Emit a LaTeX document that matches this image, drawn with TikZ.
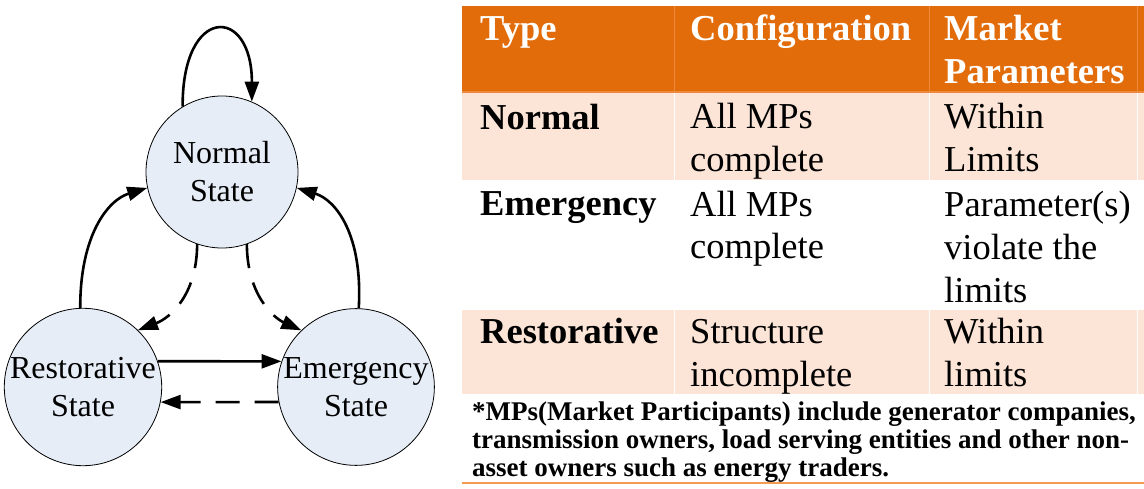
\documentclass[tikz,border=0pt]{standalone}
\usepackage{fontspec}
\setmainfont{Liberation Serif}
\usetikzlibrary{arrows.meta}
\definecolor{hdr}{HTML}{E36C0A}
\definecolor{hdrline}{HTML}{EE8A3E}
\definecolor{peach}{HTML}{FCE4D6}
\definecolor{statefill}{HTML}{E6EDF7}
\definecolor{rule}{HTML}{F59B50}
\begin{document}
\begin{tikzpicture}[x=1pt,y=-1pt,
  state/.style={circle, draw=black, line width=0.8pt, fill=statefill,
    minimum size=152pt, inner sep=0pt, align=center,
    font=\fontsize{32}{38}\selectfont},
  trans/.style={line width=2.6pt, -{Triangle[length=20pt,width=14pt]}},
  dashtrans/.style={trans, dash pattern=on 24pt off 15pt},
  % multi-line cells are anchored at the baseline of their last line
  cell/.style={anchor=base west, inner sep=0pt, align=left,
    font=\fontsize{36.5}{43}\selectfont},
  bcell/.style={cell, font=\fontsize{36.5}{43}\selectfont\bfseries},
  hcell/.style={bcell, text=white},
  note/.style={anchor=base west, inner sep=0pt, align=left,
    font=\fontsize{27}{28}\selectfont\bfseries}
]
\useasboundingbox (0,0) rectangle (1144,489);

% ---- state diagram ----
\node[state] (N) at (222,172) {Normal\\State};
\node[state] (R) at (83,387) {Restorative\\State};
\node[state] (E) at (356,387) {Emergency\\State};

\draw[trans] (N.121) .. controls (182,5) and (252,5) .. (N.67);
\draw[trans] (R.92) .. controls (80,235) and (108,200) .. (N.192);
\draw[trans] (E.88) .. controls (363,235) and (336,200) .. (N.-12);
\draw[dashtrans] (N.251) .. controls (197,295) and (170,318) .. (R.46);
\draw[dashtrans] (N.289) .. controls (247,295) and (274,318) .. (E.134);
\draw[trans] (R.19) -- (E.161);
\draw[dashtrans] (E.191) -- (R.-11);

% ---- table ----
\fill[hdr] (462,6) rectangle (1144,92);
\fill[peach] (462,92) rectangle (1144,180);
\fill[peach] (462,310) rectangle (1144,394);
\foreach \cx in {674,929,1137} {
  \draw[hdrline, line width=1pt] (\cx,6) -- (\cx,92);
  \draw[white, line width=1pt] (\cx,92) -- (\cx,180);
  \draw[white, line width=1pt] (\cx,310) -- (\cx,394);
}
\draw[hdrline, line width=1.5pt] (462,92) -- (1144,92);

\node[hcell] (h1) at (480,41) {Type};
\node[hcell] (h2) at (690,41) {Configuration};
\node[hcell] (h3) at (944,84) {Market\\Parameters};

\node[bcell] (t1) at (480,130) {Normal};
\node[cell]  (c1) at (690,172) {All MPs\\complete};
\node[cell]  (p1) at (944,172) {Within\\Limits};

\node[bcell] (t2) at (480,216) {Emergency};
\node[cell]  (c2) at (690,259) {All MPs\\complete};
\node[cell]  (p2) at (944,302) {Parameter(s)\\violate the\\limits};

\node[bcell] (t3) at (480,344) {Restorative};
\node[cell]  (c3) at (690,386) {Structure\\incomplete};
\node[cell]  (p3) at (944,386) {Within\\limits};

\node[note] (fn) at (472,476) {*MPs(Market Participants) include generator companies,\\
  transmission owners, load serving entities and other non-\\
  asset owners such as energy traders.};
\draw[rule, line width=2.7pt] (462,483) -- (1144,483);
\end{tikzpicture}
\end{document}
